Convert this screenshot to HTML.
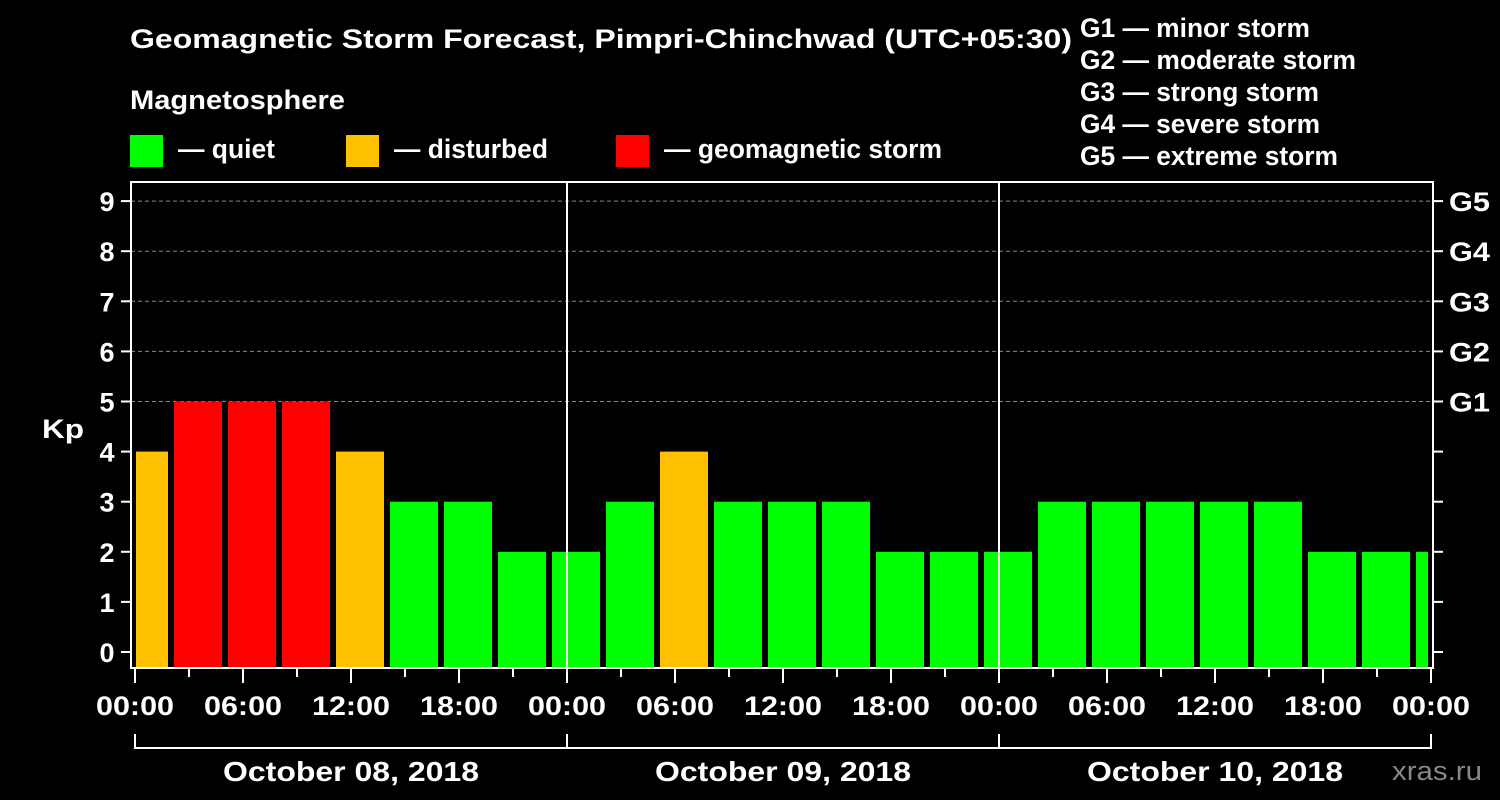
<!DOCTYPE html>
<html><head><meta charset="utf-8"><style>
html,body{margin:0;padding:0;background:#000;}
svg{display:block;font-family:"Liberation Sans",sans-serif;font-weight:bold;}
</style></head><body>
<svg id="chart" width="1500" height="800" viewBox="0 0 1500 800" xmlns="http://www.w3.org/2000/svg">
<rect width="1500" height="800" fill="#000"/>
<text x="130" y="48" fill="#fff" font-size="27" textLength="942" lengthAdjust="spacingAndGlyphs">Geomagnetic Storm Forecast, Pimpri-Chinchwad (UTC+05:30)</text>
<text x="130" y="109" fill="#fff" font-size="27" textLength="215" lengthAdjust="spacingAndGlyphs">Magnetosphere</text>
<g><rect x="130" y="135" width="33" height="32" fill="#00ff00"/><text x="178" y="158" fill="#fff" font-size="27" textLength="97" lengthAdjust="spacingAndGlyphs">— quiet</text></g>
<g><rect x="346" y="135" width="33" height="32" fill="#ffc000"/><text x="394" y="158" fill="#fff" font-size="27" textLength="154" lengthAdjust="spacingAndGlyphs">— disturbed</text></g>
<g><rect x="616" y="135" width="33" height="32" fill="#ff0000"/><text x="664" y="158" fill="#fff" font-size="27" textLength="278" lengthAdjust="spacingAndGlyphs">— geomagnetic storm</text></g>
<g fill="#fff" font-size="27" lengthAdjust="spacingAndGlyphs">
<text x="1080" y="37" textLength="230" lengthAdjust="spacingAndGlyphs">G1 — minor storm</text>
<text x="1080" y="69" textLength="276" lengthAdjust="spacingAndGlyphs">G2 — moderate storm</text>
<text x="1080" y="101" textLength="239" lengthAdjust="spacingAndGlyphs">G3 — strong storm</text>
<text x="1080" y="133" textLength="240" lengthAdjust="spacingAndGlyphs">G4 — severe storm</text>
<text x="1080" y="165" textLength="258" lengthAdjust="spacingAndGlyphs">G5 — extreme storm</text>
</g>
<g id="grid"></g>
<g id="bars"></g>
<g id="axes"></g>
<text x="42" y="438" fill="#fff" font-size="27" textLength="42" lengthAdjust="spacingAndGlyphs">Kp</text>
<text x="1392" y="780" fill="#888" font-size="27" font-weight="normal" textLength="90" lengthAdjust="spacingAndGlyphs">xras.ru</text>
</svg>
<script>
const kpValues=[4,5,5,5,4,3,3,2,2,3,4,3,3,3,2,2,2,3,3,3,3,3,2,2,2];
const yTicks=[0,1,2,3,4,5,6,7,8,9];
const gLabels=["G1","G2","G3","G4","G5"];
const gLevels=[5,6,7,8,9];
const hourLabels=["00:00","06:00","12:00","18:00"];
const dayLabels=["October 08, 2018","October 09, 2018","October 10, 2018"];
const NS="http://www.w3.org/2000/svg";
const L=131,R=1433,T=182,B=668,X0=135,PXH=18;
const y=v=>652-v*50.1;
const x=h=>X0+h*PXH;
function mk(tag,attrs,parent){const e=document.createElementNS(NS,tag);for(const k in attrs)e.setAttribute(k,attrs[k]);parent.appendChild(e);return e;}
const grid=document.getElementById('grid'),bars=document.getElementById('bars'),axes=document.getElementById('axes');
gLevels.forEach((lv,i)=>{
 const g=mk('line',{x1:L,x2:R,y1:y(lv),y2:y(lv),stroke:'#888','stroke-dasharray':'4,3','stroke-width':1},grid);
 
 
 const t=mk('text',{x:1449,y:y(lv)+10,fill:'#fff','font-size':27,textLength:41,lengthAdjust:'spacingAndGlyphs'},axes);t.textContent=gLabels[i];
 
 
});
const col=v=>v>=5?'#ff0000':v>=4?'#ffc000':'#00ff00';
kpValues.forEach((v,i)=>{
 let s=x(-1+3*i)+3,e=s+48;
 s=Math.max(s,L+5);e=Math.min(e,R-5);
 const b=mk('rect',{x:s,y:y(v),width:e-s,height:B-y(v),fill:col(v)},bars);
 
 
});
mk('rect',{x:L,y:T,width:R-L,height:B-T,fill:'none',stroke:'#fff','stroke-width':2},axes);
[1,2].forEach(d=>{const l=mk('line',{x1:x(24*d),x2:x(24*d),y1:T,y2:B,stroke:'#fff','stroke-width':2},axes);
 
 });
yTicks.forEach(v=>{
 mk('line',{x1:121,x2:L,y1:y(v),y2:y(v),stroke:'#fff','stroke-width':2},axes);
 mk('line',{x1:R,x2:1443,y1:y(v),y2:y(v),stroke:'#fff','stroke-width':2},axes);
 const t=mk('text',{x:107,y:y(v)+10,fill:'#fff','font-size':27,'text-anchor':'middle'},axes);t.textContent=v;
 
 
});
for(let h=0;h<=72;h+=3){
 const major=h%6===0;
 mk('line',{x1:x(h),x2:x(h),y1:B,y2:B+(major?15:9),stroke:'#fff','stroke-width':2},axes);
 if(major){const t=mk('text',{x:x(h),y:715,fill:'#fff','font-size':27,'text-anchor':'middle',textLength:78,lengthAdjust:'spacingAndGlyphs'},axes);
  t.textContent=hourLabels[(h/6)%4];
  
  }
}
mk('line',{x1:x(0),x2:x(72),y1:748,y2:748,stroke:'#fff','stroke-width':2},axes);
for(let d=0;d<=3;d++)mk('line',{x1:x(24*d),x2:x(24*d),y1:734,y2:749,stroke:'#fff','stroke-width':2},axes);
dayLabels.forEach((s,d)=>{const t=mk('text',{x:x(24*d+12),y:781,fill:'#fff','font-size':28,'text-anchor':'middle',textLength:256,lengthAdjust:'spacingAndGlyphs'},axes);t.textContent=s;
 
 });
</script>
</body></html>
